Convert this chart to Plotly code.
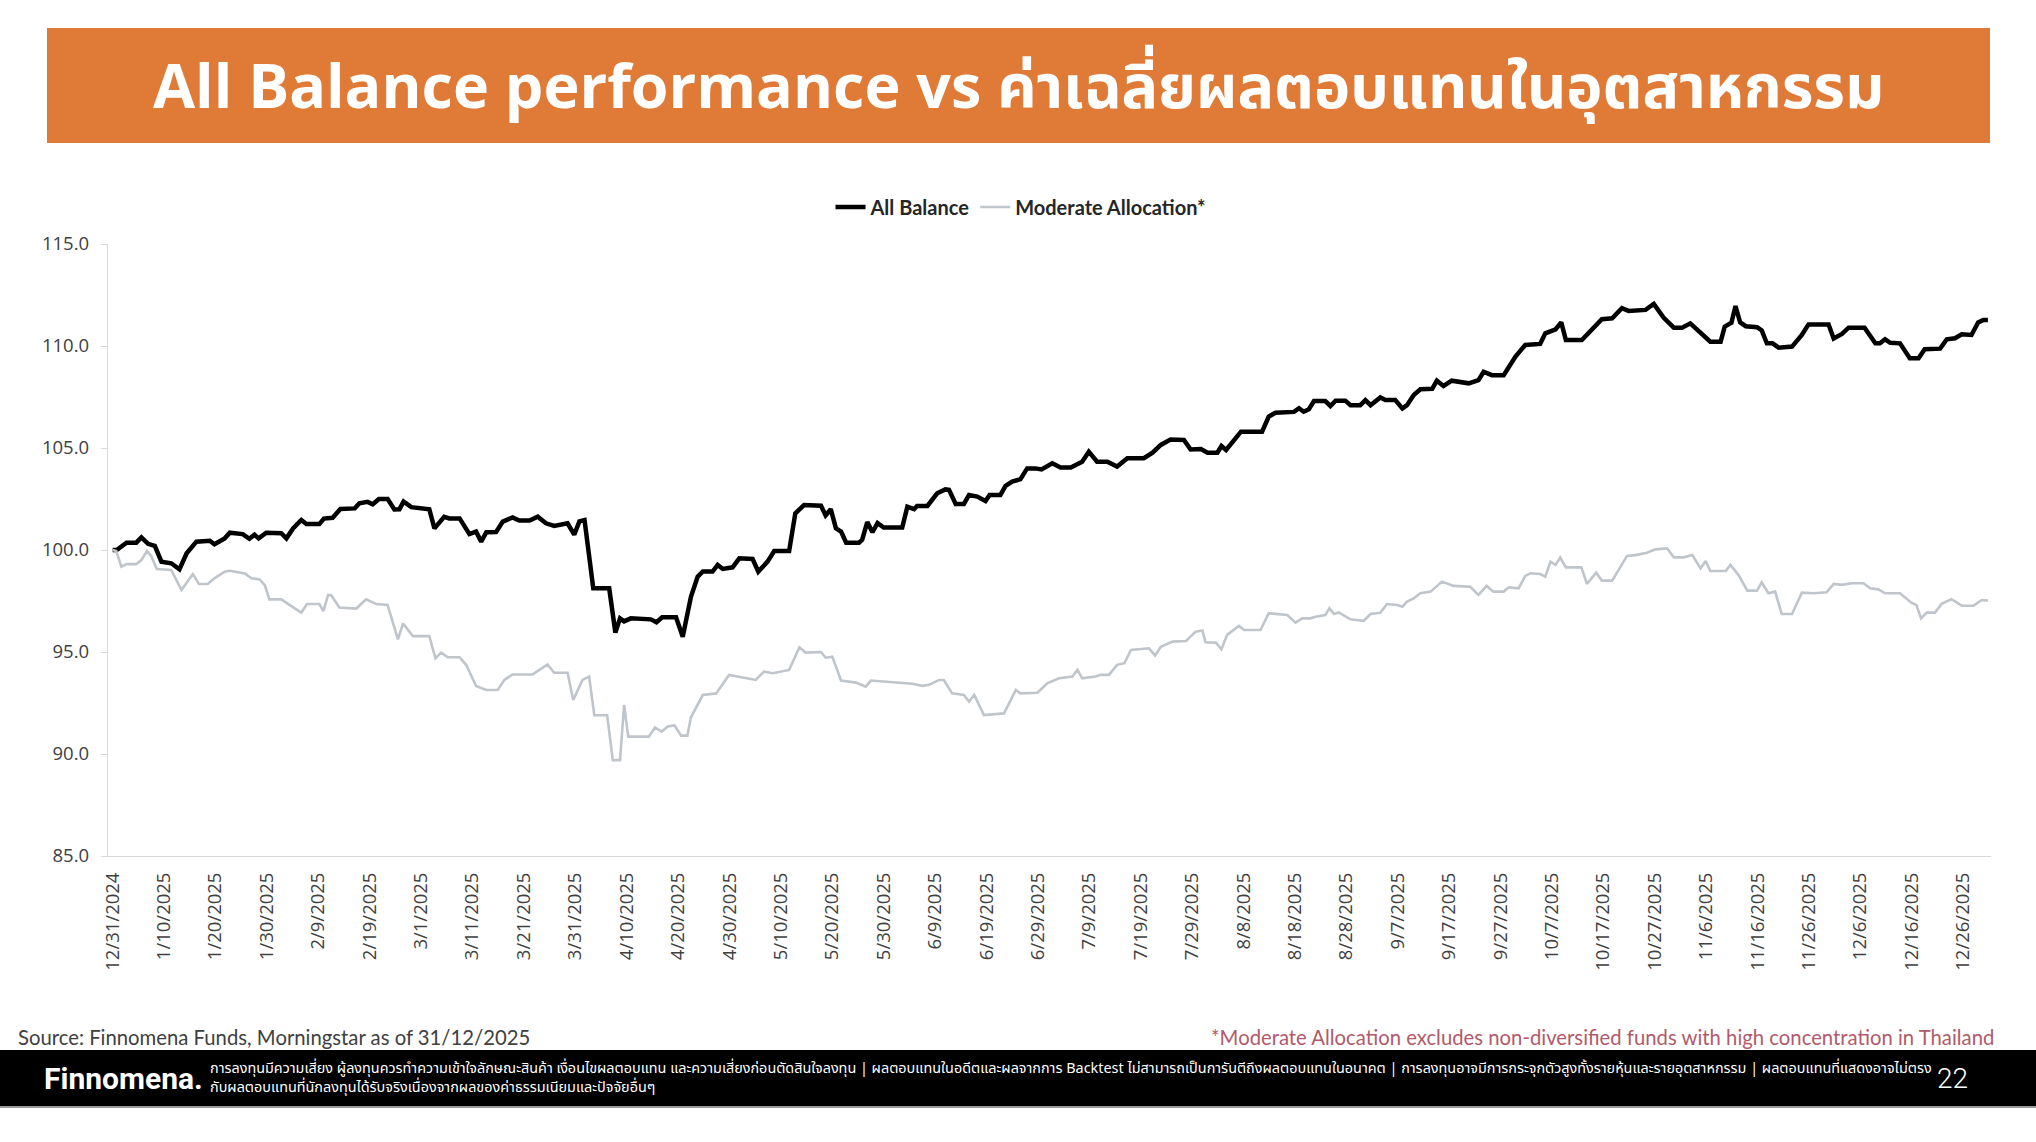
import pandas as pd
import plotly.graph_objects as go

# ---------------- data ----------------
start_date = "2024-12-31"

ab_days = [0, 0.8, 2.7, 4.6, 5.6, 6.9, 8.2, 9.5, 11.4, 13.0, 14.4, 16.3, 18.9, 19.8, 21.8, 22.8, 25.3, 26.6,
           27.6, 28.4, 29.9, 32.8, 33.8, 35.1, 36.7, 37.7, 40.2, 41.1, 42.8, 44.3, 47.1, 48.0, 49.6, 50.6,
           51.8, 53.5, 54.8, 55.8, 56.6, 58.1, 61.6, 62.6, 64.5, 65.5, 67.5, 68.4, 69.4, 70.7, 71.7, 72.7,
           74.6, 75.9, 77.8, 79.1, 81.1, 82.7, 84.3, 85.9, 88.5, 89.8, 90.8, 91.8, 93.5, 96.6, 97.8, 98.7,
           99.5, 100.8, 104.7, 105.8, 106.9, 109.6, 110.9, 112.5, 113.8, 114.8, 116.7, 117.7, 118.7, 120.6,
           121.9, 124.5, 125.6, 127.4, 128.7, 131.6, 132.8, 134.5, 137.8, 138.7, 139.7, 140.7, 141.7, 142.7,
           145.2, 145.8, 146.8, 147.8, 148.8, 150.0, 153.6, 154.6, 155.9, 156.5, 158.5, 160.4, 162.0, 162.7,
           164.0, 165.6, 166.6, 168.2, 169.8, 170.6, 172.7, 173.7, 175.0, 176.6, 177.9, 179.5, 180.7, 182.8,
           184.4, 186.4, 188.6, 189.9, 191.5, 193.5, 195.4, 197.4, 200.6, 202.3, 203.9, 205.8, 208.4, 209.7,
           211.7, 213.0, 214.9, 215.7, 216.6, 219.5, 223.6, 224.9, 226.2, 229.8, 230.8, 231.7, 232.7, 233.7,
           235.9, 236.9, 237.9, 239.8, 240.8, 242.7, 243.7, 244.7, 246.6, 247.6, 249.5, 250.9, 251.8, 253.1,
           254.4, 256.7, 257.6, 258.9, 260.5, 263.8, 265.7, 266.7, 268.3, 270.6, 271.6, 272.9, 274.8, 277.7,
           278.7, 280.7, 281.8, 282.7, 285.8, 287.1, 289.7, 291.7, 293.6, 294.9, 298.2, 299.8, 301.7, 303.7,
           305.3, 306.9, 308.9, 310.8, 312.8, 313.6, 314.9, 315.7, 316.6, 317.7, 319.9, 320.8, 321.8, 322.9,
           324.1, 326.7, 328.6, 329.9, 333.8, 334.8, 336.4, 337.7, 340.8, 342.9, 343.8, 344.8, 345.8, 347.7,
           349.6, 351.3, 352.5, 355.5, 356.8, 358.4, 359.7, 361.6, 362.9, 363.9, 364.8]
ab_values = [100.0, 100.0, 100.36, 100.36, 100.62, 100.3, 100.2, 99.43, 99.35, 99.05, 99.84, 100.41, 100.45,
             100.28, 100.57, 100.85, 100.78, 100.55, 100.75, 100.57, 100.85, 100.82, 100.57, 101.06, 101.47,
             101.27, 101.27, 101.54, 101.58, 102.01, 102.04, 102.29, 102.36, 102.24, 102.5, 102.5, 101.99,
             102.0, 102.37, 102.1, 102.0, 101.06, 101.63, 101.55, 101.55, 101.14, 100.78, 100.9, 100.41,
             100.87, 100.88, 101.39, 101.6, 101.44, 101.44, 101.63, 101.31, 101.18, 101.31, 100.75, 101.4,
             101.47, 98.12, 98.12, 95.95, 96.65, 96.5, 96.65, 96.6, 96.46, 96.7, 96.7, 95.75, 97.71, 98.69,
             98.94, 98.94, 99.27, 99.07, 99.15, 99.59, 99.56, 98.94, 99.43, 99.95, 99.95, 101.8, 102.2,
             102.17, 101.7, 102.0, 101.06, 100.9, 100.36, 100.36, 100.5, 101.37, 100.87, 101.32, 101.1,
             101.1, 102.12, 102.0, 102.16, 102.16, 102.78, 102.97, 102.95, 102.26, 102.26, 102.7, 102.62,
             102.4, 102.7, 102.7, 103.14, 103.35, 103.47, 104.0, 104.0, 103.95, 104.25, 104.04, 104.04,
             104.33, 104.82, 104.33, 104.33, 104.09, 104.5, 104.5, 104.77, 105.15, 105.42, 105.39, 104.93,
             104.95, 104.77, 104.77, 105.1, 104.9, 105.8, 105.8, 106.54, 106.73, 106.77, 106.95, 106.78,
             106.9, 107.3, 107.3, 107.06, 107.32, 107.32, 107.1, 107.1, 107.35, 107.1, 107.48, 107.35,
             107.35, 106.94, 107.1, 107.6, 107.88, 107.9, 108.3, 108.04, 108.3, 108.17, 108.33, 108.74,
             108.57, 108.57, 109.0, 109.48, 110.05, 110.1, 110.62, 110.82, 111.16, 110.29, 110.29, 110.62,
             111.31, 111.36, 111.85, 111.72, 111.77, 112.06, 111.39, 110.9, 110.9, 111.11, 110.65, 110.21,
             110.21, 110.95, 111.14, 111.96, 111.16, 110.97, 110.92, 110.76, 110.13, 110.13, 109.92, 109.97,
             110.54, 111.06, 111.06, 110.37, 110.59, 110.9, 110.9, 110.13, 110.13, 110.33, 110.16, 110.13,
             109.4, 109.4, 109.84, 109.87, 110.33, 110.38, 110.57, 110.54, 111.15, 111.28, 111.28]

ma_days = [0, 0.7, 1.7, 2.7, 4.6, 5.6, 6.7, 7.5, 8.6, 11.4, 13.4, 15.6, 16.8, 18.5, 19.8, 21.8, 22.8, 25.7,
           27.0, 28.6, 29.6, 30.5, 32.8, 33.8, 36.7, 37.8, 40.2, 41.0, 41.9, 42.5, 44.1, 47.4, 49.3, 51.3,
           53.5, 55.5, 56.5, 58.4, 61.6, 62.8, 63.9, 65.2, 67.5, 68.8, 70.7, 72.7, 74.9, 76.2, 77.8, 81.7,
           84.6, 85.9, 88.5, 89.6, 90.8, 91.4, 92.7, 93.7, 96.2, 97.3, 98.7, 99.5, 100.3, 104.3, 105.5,
           106.8, 108.0, 109.3, 110.6, 111.8, 112.5, 114.8, 117.4, 119.9, 125.1, 126.7, 128.4, 131.6, 133.6,
           134.8, 137.8, 138.7, 140.0, 141.7, 144.6, 146.5, 147.5, 153.0, 155.6, 157.5, 158.8, 160.8, 161.7,
           163.3, 165.6, 166.6, 167.6, 169.5, 173.4, 175.7, 176.6, 179.9, 181.8, 184.1, 186.7, 187.7, 188.6,
           191.2, 192.2, 193.8, 195.4, 196.8, 198.1, 201.6, 202.8, 203.9, 206.2, 208.8, 210.7, 212.0, 212.6,
           214.6, 215.7, 216.8, 219.1, 220.1, 223.3, 224.9, 228.5, 230.1, 231.4, 233.0, 234.0, 235.9, 236.7,
           237.6, 238.5, 240.8, 243.4, 244.7, 246.6, 247.9, 249.9, 250.9, 251.8, 253.1, 254.4, 256.4, 258.6,
           260.9, 264.1, 265.7, 267.3, 268.6, 270.6, 271.6, 273.5, 274.8, 275.8, 277.7, 278.7, 279.7, 280.7,
           281.6, 282.7, 285.7, 286.8, 288.6, 289.7, 291.7, 294.6, 296.2, 298.5, 300.1, 302.4, 303.7, 305.6,
           307.3, 308.9, 309.9, 310.8, 313.8, 314.7, 316.3, 318.0, 319.9, 320.8, 322.1, 323.4, 324.7, 326.7,
           328.6, 330.9, 333.4, 334.8, 336.4, 338.3, 340.6, 341.9, 343.5, 344.8, 347.7, 349.9, 350.9, 351.8,
           352.9, 354.5, 355.8, 357.7, 359.7, 362.0, 363.6, 364.8]
ma_values = [100.0, 99.95, 99.18, 99.31, 99.31, 99.51, 99.95, 99.71, 99.07, 99.02, 98.04, 98.82, 98.33, 98.33,
             98.61, 98.94, 98.98, 98.85, 98.61, 98.56, 98.28, 97.58, 97.58, 97.42, 96.93, 97.35, 97.35, 97.0,
             97.79, 97.79, 97.18, 97.13, 97.58, 97.35, 97.3, 95.62, 96.4, 95.78, 95.78, 94.69, 94.97, 94.74,
             94.74, 94.36, 93.33, 93.14, 93.14, 93.63, 93.9, 93.9, 94.39, 93.98, 93.98, 92.65, 93.3, 93.63,
             93.79, 91.9, 91.9, 89.7, 89.7, 92.4, 90.85, 90.85, 91.3, 91.1, 91.35, 91.4, 90.9, 90.9, 91.8,
             92.89, 92.97, 93.87, 93.63, 94.04, 93.96, 94.12, 95.23, 94.97, 95.0, 94.72, 94.77, 93.6, 93.5,
             93.3, 93.6, 93.47, 93.44, 93.34, 93.39, 93.63, 93.63, 92.97, 92.89, 92.57, 92.89, 91.91, 91.99,
             93.14, 92.97, 93.0, 93.46, 93.71, 93.8, 94.12, 93.71, 93.8, 93.88, 93.88, 94.37, 94.45, 95.1,
             95.18, 94.82, 95.26, 95.51, 95.54, 96.0, 96.05, 95.48, 95.46, 95.13, 95.84, 96.28, 96.08, 96.08,
             96.9, 96.81, 96.44, 96.65, 96.65, 96.73, 96.81, 97.14, 96.86, 96.94, 96.6, 96.53, 96.86, 96.92,
             97.35, 97.3, 97.22, 97.47, 97.63, 97.88, 97.96, 98.45, 98.24, 98.2, 97.8, 98.24, 97.96, 97.96,
             98.17, 98.12, 98.73, 98.86, 98.82, 98.69, 99.43, 99.27, 99.63, 99.15, 99.15, 98.34, 98.89, 98.5,
             98.5, 99.71, 99.75, 99.87, 100.03, 100.08, 99.64, 99.64, 99.75, 99.1, 99.46, 98.97, 98.97, 99.27,
             98.77, 98.01, 98.01, 98.42, 97.88, 97.96, 96.86, 96.86, 97.91, 97.88, 97.93, 98.34, 98.29, 98.37,
             98.37, 98.12, 98.07, 97.88, 97.88, 97.42, 97.3, 96.65, 96.93, 96.93, 97.36, 97.59, 97.27, 97.27,
             97.55, 97.52]

series_names = ["All Balance", "Moderate Allocation*"]
y_ticks = [85, 90, 95, 100, 105, 110, 115]

title_text = "All Balance performance vs ค่าเฉลี่ยผลตอบแทนในอุตสาหกรรม"
source_text = "Source: Finnomena Funds, Morningstar as of 31/12/2025"
footnote_text = "*Moderate Allocation excludes non-diversified funds with high concentration in Thailand"
brand_text = "Finnomena."
disclaimer_lines = [
    "การลงทุนมีความเสี่ยง ผู้ลงทุนควรทำความเข้าใจลักษณะสินค้า เงื่อนไขผลตอบแทน และความเสี่ยงก่อนตัดสินใจลงทุน | "
    "ผลตอบแทนในอดีตและผลจากการ Backtest ไม่สามารถเป็นการันตีถึงผลตอบแทนในอนาคต | "
    "การลงทุนอาจมีการกระจุกตัวสูงทั้งรายหุ้นและรายอุตสาหกรรม | ผลตอบแทนที่แสดงอาจไม่ตรง",
    "กับผลตอบแทนที่นักลงทุนได้รับจริงเนื่องจากผลของค่าธรรมเนียมและปัจจัยอื่นๆ",
]
page_number = "22"

assert len(ab_days) == len(ab_values)
assert len(ma_days) == len(ma_values)

# ---------------- figure ----------------
base = pd.Timestamp(start_date)
ab_dates = [base + pd.Timedelta(days=d) for d in ab_days]
ma_dates = [base + pd.Timedelta(days=d) for d in ma_days]
tick_dates = pd.date_range(start_date, periods=37, freq="10D")

W, H = 2036, 1142
L, R, T, B = 108, 2036 - 1991, 244, 1142 - 856
PW, PH = W - L - R, H - T - B


def px(xp):
    return (xp - L) / PW


def py(yp):
    return (H - B - yp) / PH


THAI = "Noto Sans Thai, Noto Sans Thai UI, Noto Sans, Loma, Garuda, sans-serif"

fig = go.Figure()
fig.add_trace(go.Scatter(x=ab_dates, y=ab_values, mode="lines", name=series_names[0],
                         line=dict(color="#000000", width=4.5)))
fig.add_trace(go.Scatter(x=ma_dates, y=ma_values, mode="lines", name=series_names[1],
                         line=dict(color="#BFC5CA", width=2.6)))

fig.update_layout(
    width=W, height=H,
    margin=dict(l=L, r=R, t=T, b=B),
    paper_bgcolor="white", plot_bgcolor="white",
    showlegend=True,
    legend=dict(orientation="h", x=px(1021), y=py(207), xanchor="center", yanchor="middle",
                font=dict(family="Lato, Open Sans, sans-serif", size=20, color="#262626", weight="bold"),
                bgcolor="rgba(0,0,0,0)", itemwidth=30, tracegroupgap=0),
    xaxis=dict(
        type="date",
        range=[base - pd.Timedelta(days=0.9), base + pd.Timedelta(days=365.4)],
        tickmode="array", tickvals=list(tick_dates), tickformat="%-m/%-d/%Y",
        tickangle=-90, ticks="", showgrid=False, zeroline=False,
        showline=True, linecolor="#D9D9D9", linewidth=1.3,
        tickfont=dict(family="Open Sans, sans-serif", size=18.5, color="#404040"),
        ticklabelstandoff=8,
    ),
    yaxis=dict(
        range=[85, 115], tickmode="array", tickvals=y_ticks,
        tickformat=".1f", ticks="outside", ticklen=6, tickcolor="#D9D9D9",
        showgrid=False, zeroline=False, showline=True, linecolor="#D9D9D9", linewidth=1.3,
        tickfont=dict(family="Open Sans, sans-serif", size=18.5, color="#404040"),
        ticklabelstandoff=8,
    ),
)

shapes = [
    dict(type="rect", xref="paper", yref="paper", x0=px(47), x1=px(1990), y0=py(143), y1=py(28),
         fillcolor="#E07A37", line=dict(width=0), layer="below"),
    dict(type="rect", xref="paper", yref="paper", x0=px(0), x1=px(2036), y0=py(1106), y1=py(1050),
         fillcolor="#000000", line=dict(width=0), layer="below"),
    dict(type="line", xref="paper", yref="paper", x0=px(0), x1=px(2036), y0=py(1107), y1=py(1107),
         line=dict(color="#9A9A9A", width=2)),
]
fig.update_layout(shapes=shapes)

annotations = [
    dict(text=f"<b>{title_text}</b>", x=px(1018), y=py(89), xref="paper", yref="paper",
         xanchor="center", yanchor="middle", showarrow=False,
         font=dict(family=THAI, size=61, color="white")),
    dict(text=source_text, x=px(16), y=py(1037), xref="paper", yref="paper",
         xanchor="left", yanchor="middle", showarrow=False,
         font=dict(family="Lato, sans-serif", size=20.3, color="#404040")),
    dict(text=footnote_text, x=px(1996), y=py(1037), xref="paper", yref="paper",
         xanchor="right", yanchor="middle", showarrow=False,
         font=dict(family="Lato, sans-serif", size=20.3, color="#B05A6A")),
    dict(text=f"<b>{brand_text}</b>", x=px(42), y=py(1078), xref="paper", yref="paper",
         xanchor="left", yanchor="middle", showarrow=False,
         font=dict(family="Roboto, sans-serif", size=30, color="white")),
    dict(text="<br>".join(disclaimer_lines), x=px(208), y=py(1078), xref="paper", yref="paper",
         xanchor="left", yanchor="middle", align="left", showarrow=False,
         font=dict(family=THAI, size=14.4, color="white")),
    dict(text=page_number, x=px(1952), y=py(1078), xref="paper", yref="paper",
         xanchor="center", yanchor="middle", showarrow=False,
         font=dict(family="Roboto, sans-serif", size=28, color="white", weight=300)),
]
fig.update_layout(annotations=annotations)

fig.write_html("out.html")
